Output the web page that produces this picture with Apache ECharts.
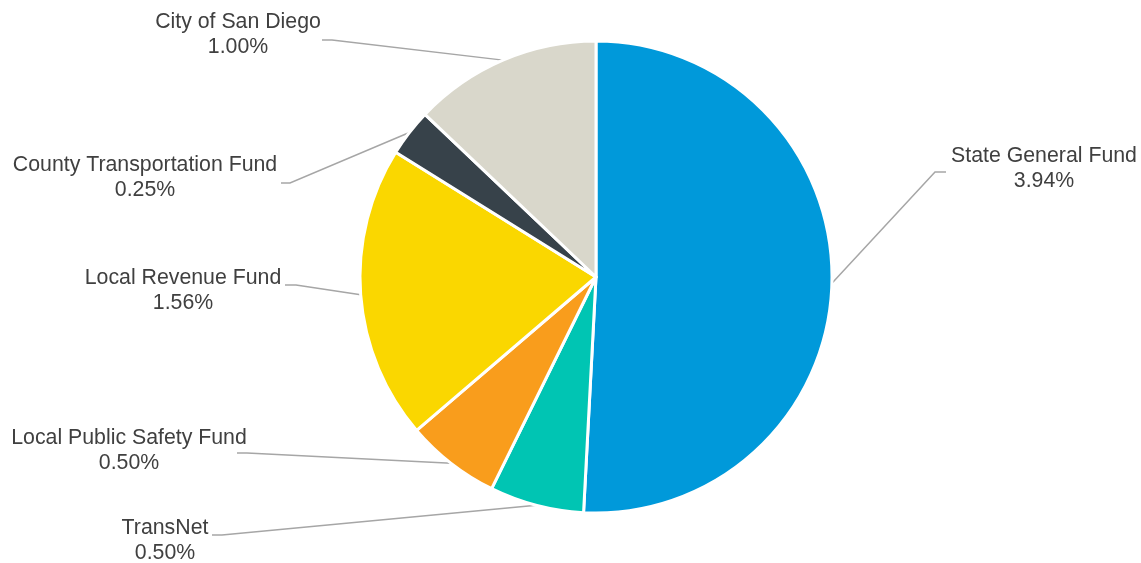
<!DOCTYPE html>
<html>
<head>
<meta charset="utf-8">
<title>Funding Sources</title>
<script src="https://cdn.jsdelivr.net/npm/echarts@6/dist/echarts.min.js"></script>
<style>
  html, body { margin: 0; padding: 0; background: #ffffff; }
  #chart { width: 1141px; height: 563px; }
</style>
</head>
<body>
<div id="chart"></div>
<script>
// Funding sources (percent shares)
const categories = [
  'State General Fund',
  'TransNet',
  'Local Public Safety Fund',
  'Local Revenue Fund',
  'County Transportation Fund',
  'City of San Diego'
];
const shares = [3.94, 0.50, 0.50, 1.56, 0.25, 1.00];
const colors = ['#0099DA', '#00C5B3', '#F99D1C', '#FAD700', '#37424A', '#D9D7CB'];

// Label placement: text block centre, connector elbow and connector end (pixels)
const labelCenters = [[1044, 169], [165, 541], [129, 451], [183, 291], [145, 178], [238, 35]];
const connectorElbows = [[935, 172], [222, 535], [247, 453], [296, 285], [290, 183], [332, 40]];
const connectorEnds = [[946, 172], [212, 535], [237, 453], [285, 285], [281, 183], [322, 40]];

const chart = echarts.init(document.getElementById('chart'), null, { renderer: 'canvas' });

chart.setOption({
  animation: false,
  backgroundColor: '#ffffff',
  series: [{
    type: 'pie',
    center: [596, 277],
    radius: [0, 236],
    startAngle: 90,
    clockwise: true,
    avoidLabelOverlap: false,
    itemStyle: { borderColor: '#ffffff', borderWidth: 3 },
    label: {
      show: true,
      position: 'outside',
      color: '#404040',
      fontFamily: '"Liberation Sans", Arial, sans-serif',
      fontSize: 21.3,
      lineHeight: 25,
      align: 'center',
      formatter: p => p.name + '\n' + p.value.toFixed(2) + '%'
    },
    labelLine: {
      show: true,
      length: 20,
      length2: 10,
      lineStyle: { color: '#A6A6A6', width: 1.5 }
    },
    labelLayout: function (params) {
      const i = params.dataIndex;
      const start = params.labelLinePoints ? params.labelLinePoints[0] : connectorElbows[i];
      return {
        x: labelCenters[i][0],
        y: labelCenters[i][1],
        align: 'center',
        verticalAlign: 'middle',
        labelLinePoints: [start, connectorElbows[i], connectorEnds[i]]
      };
    },
    data: categories.map((name, i) => ({
      name: name,
      value: shares[i],
      itemStyle: { color: colors[i] }
    }))
  }]
});
</script>
</body>
</html>
